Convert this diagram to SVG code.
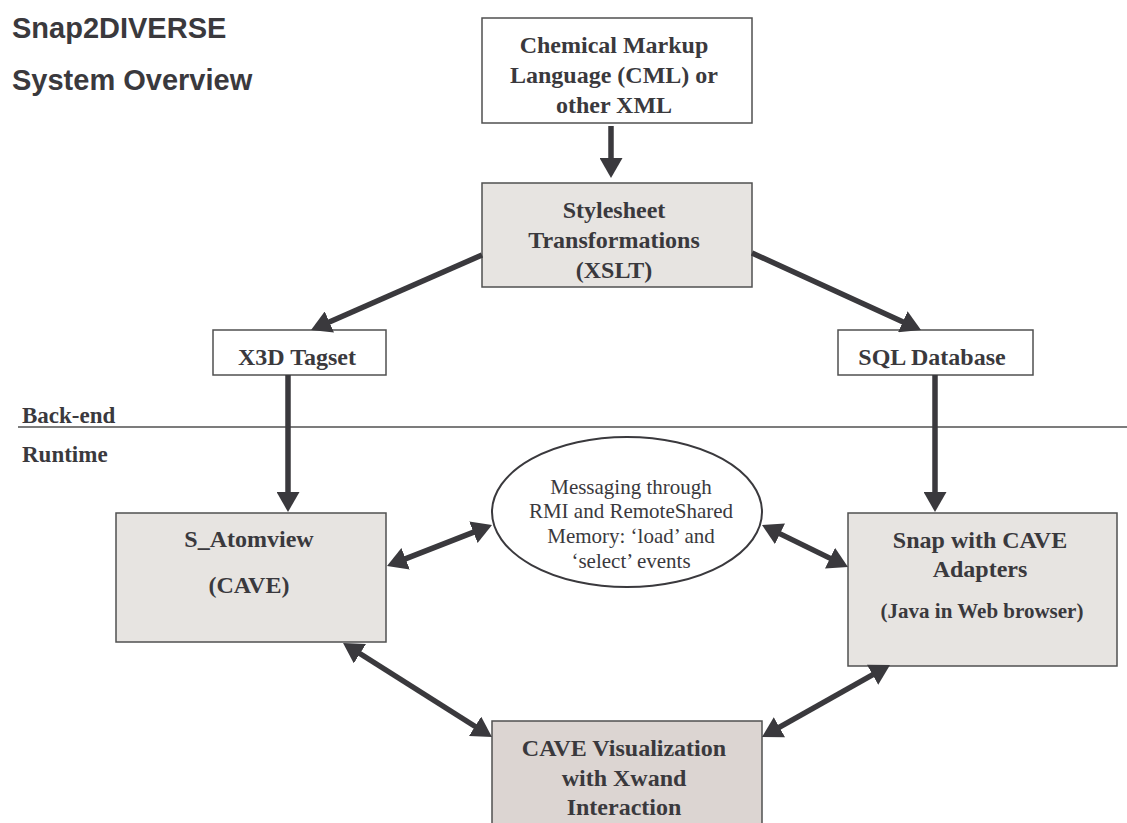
<svg xmlns="http://www.w3.org/2000/svg" width="1127" height="823" viewBox="0 0 1127 823">
<style>
.box{stroke:#505050;stroke-width:1.5}
.w{fill:#ffffff}
.g{fill:#e7e4e1}
.g2{fill:#dcd5d2}
.t{font-family:"Liberation Serif",serif;font-weight:bold;font-size:24px;fill:#3a393d;text-anchor:middle}
.s{font-family:"Liberation Serif",serif;font-size:21px;fill:#3a393d;text-anchor:middle}
.h{font-family:"Liberation Sans",sans-serif;font-weight:bold;font-size:29px;fill:#3a393d}
.l{font-family:"Liberation Serif",serif;font-weight:bold;font-size:23px;fill:#3a393d}
.c{stroke:#3a393d;stroke-width:5.5;fill:none}
</style>
<defs>
<marker id="ah" markerUnits="userSpaceOnUse" markerWidth="20" markerHeight="23" refX="10" refY="11.5" orient="auto-start-reverse" viewBox="0 0 20 23">
<path d="M0,0 L20,11.5 L0,23 z" fill="#3a393d"/>
</marker>
</defs>
<rect width="1127" height="823" fill="#ffffff"/>
<g id="title">
<text class="h" x="12" y="38">Snap2DIVERSE</text>
<text class="h" x="12" y="90">System Overview</text>
</g>
<g id="divider">
<line x1="18" y1="427" x2="1127" y2="427" stroke="#505050" stroke-width="1.5"/>
<text class="l" x="22" y="423">Back-end</text>
<text class="l" x="22" y="462">Runtime</text>
</g>
<g id="cml">
<rect class="box w" x="482" y="18" width="270" height="105"/>
<text class="t" x="614" y="53">Chemical Markup</text>
<text class="t" x="614" y="83">Language (CML) or</text>
<text class="t" x="614" y="113">other XML</text>
</g>
<g id="xslt">
<rect class="box g" x="482" y="183" width="270" height="104"/>
<text class="t" x="614" y="218">Stylesheet</text>
<text class="t" x="614" y="248">Transformations</text>
<text class="t" x="614" y="278">(XSLT)</text>
</g>
<g id="x3d">
<rect class="box w" x="213" y="330" width="173" height="45"/>
<text class="t" x="297" y="365">X3D Tagset</text>
</g>
<g id="sql">
<rect class="box w" x="838" y="330" width="195" height="45"/>
<text class="t" x="932" y="365">SQL Database</text>
</g>
<g id="atomview">
<rect class="box g" x="116" y="513" width="270" height="129"/>
<text class="t" x="249" y="547">S_Atomview</text>
<text class="t" x="249" y="593">(CAVE)</text>
</g>
<g id="messaging">
<ellipse cx="627" cy="512" rx="135" ry="75" fill="#ffffff" stroke="#3a393d" stroke-width="2"/>
<text class="s" x="631" y="494">Messaging through</text>
<text class="s" x="631" y="518">RMI and RemoteShared</text>
<text class="s" x="631" y="543">Memory: ‘load’ and</text>
<text class="s" x="631" y="568">‘select’ events</text>
</g>
<g id="snap">
<rect class="box g" x="848" y="513" width="269" height="153"/>
<text class="t" x="980" y="548">Snap with CAVE</text>
<text class="t" x="980" y="577">Adapters</text>
<text class="t" x="982" y="618" style="font-size:21px">(Java in Web browser)</text>
</g>
<g id="cavevis">
<rect class="box g2" x="492" y="721" width="270" height="110"/>
<text class="t" x="624" y="756">CAVE Visualization</text>
<text class="t" x="624" y="786">with Xwand</text>
<text class="t" x="624" y="815">Interaction</text>
</g>
<g id="connectors">
<line class="c" x1="611" y1="126" x2="611" y2="168" marker-end="url(#ah)"/>
<line class="c" x1="482" y1="255" x2="320.2" y2="326" marker-end="url(#ah)"/>
<line class="c" x1="752" y1="253" x2="911.9" y2="325.9" marker-end="url(#ah)"/>
<line class="c" x1="288" y1="375" x2="288" y2="502" marker-end="url(#ah)"/>
<line class="c" x1="935" y1="375" x2="935" y2="502" marker-end="url(#ah)"/>
<line class="c" x1="396.3" y1="562.4" x2="482.7" y2="528.6" marker-start="url(#ah)" marker-end="url(#ah)"/>
<line class="c" x1="771" y1="529.4" x2="839" y2="562.6" marker-start="url(#ah)" marker-end="url(#ah)"/>
<line class="c" x1="351.5" y1="648.3" x2="483.5" y2="731.7" marker-start="url(#ah)" marker-end="url(#ah)"/>
<line class="c" x1="770.7" y1="732.1" x2="881.3" y2="669.9" marker-start="url(#ah)" marker-end="url(#ah)"/>
</g>
</svg>
